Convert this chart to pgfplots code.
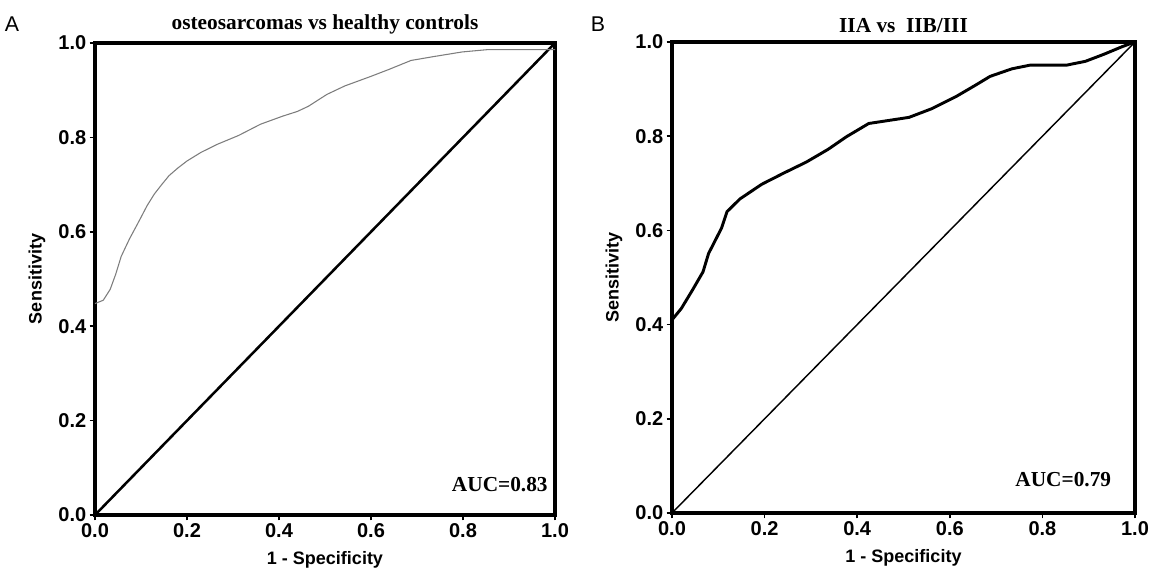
\documentclass[border=0pt]{standalone}
\usepackage{pgfplots}
\pgfplotsset{compat=1.18}
\usepackage{fontspec}
\setmainfont{Liberation Sans}
\newfontfamily\titlefont{Liberation Serif}

\definecolor{curvegray}{RGB}{125,125,125}

\pgfplotsset{
  rocaxis/.style={
    scale only axis,
    xmin=0, xmax=1, ymin=0, ymax=1,
    xtick={0,0.2,...,1.0}, ytick={0,0.2,...,1.0},
    /pgf/number format/assume math mode=true,
    /pgf/number format/.cd, fixed, fixed zerofill, precision=1, /pgfplots/.cd,
    tick label style={font=\fontsize{15}{16}\selectfont\bfseries},
    yticklabel style={xshift=1pt},
    xticklabel style={yshift=1pt},
    label style={font=\fontsize{13.5}{14}\selectfont\bfseries},
    xlabel={1 - Specificity}, ylabel={Sensitivity},
    xlabel style={yshift=-3pt},
    ylabel style={yshift=3pt},
    axis line style={line width=3pt},
    tick style={black, line width=1.2pt},
    tick align=outside, major tick length=4pt,
    xtick pos=bottom, ytick pos=left,
    clip=false,
    title style={font=\titlefont\fontsize{16}{17}\selectfont\bfseries, yshift=-2.5pt},
  }
}

\begin{document}
\begin{tikzpicture}
\path (0,0) rectangle (868.5pt,426.75pt);
\node[font=\fontsize{16}{17}\selectfont, anchor=center] at (9pt,408.75pt) {A};
\node[font=\fontsize{16}{17}\selectfont, anchor=center] at (448.5pt,408.75pt) {B};

\begin{axis}[rocaxis, at={(71.25pt,40.5pt)}, anchor=south west,
  width=345pt, height=354pt,
  title={osteosarcomas vs healthy controls}]
\addplot[black, line width=1.9pt] coordinates {(0,0) (1,1)};
\addplot[curvegray, line width=0.8pt] coordinates {
(0,0.448) (0.018,0.455) (0.033,0.478) (0.045,0.51) (0.057,0.548) (0.075,0.585)
(0.097,0.625) (0.113,0.655) (0.129,0.68) (0.145,0.70) (0.161,0.719) (0.18,0.735)
(0.2,0.75) (0.23,0.768) (0.265,0.785) (0.312,0.804) (0.36,0.828) (0.408,0.845)
(0.44,0.855) (0.464,0.866) (0.504,0.891) (0.543,0.909) (0.599,0.929)
(0.639,0.944) (0.687,0.963) (0.735,0.971) (0.798,0.981) (0.854,0.986) (1.0,0.986)};
\node[font=\titlefont\fontsize{16}{17}\selectfont\bfseries] at (axis cs:0.88,0.064) {AUC=0.83};
\end{axis}

\begin{axis}[rocaxis, at={(504pt,42pt)}, anchor=south west,
  width=347.25pt, height=353.25pt,
  title={IIA vs\ \ IIB/III}]
\addplot[black, line width=1.1pt] coordinates {(0,0) (1,1)};
\addplot[black, line width=2.2pt] coordinates {
(0,0.41) (0.02,0.434) (0.044,0.473) (0.067,0.512) (0.079,0.551) (0.091,0.574)
(0.107,0.605) (0.119,0.64) (0.147,0.667) (0.194,0.698) (0.242,0.722)
(0.29,0.745) (0.337,0.772) (0.377,0.799) (0.425,0.827) (0.472,0.834)
(0.512,0.84) (0.56,0.858) (0.615,0.885) (0.655,0.908) (0.687,0.927)
(0.734,0.943) (0.774,0.951) (0.853,0.951) (0.893,0.959) (0.933,0.974)
(0.972,0.99) (1,1)};
\node[font=\titlefont\fontsize{16}{17}\selectfont\bfseries] at (axis cs:0.845,0.07) {AUC=0.79};
\end{axis}
\end{tikzpicture}
\end{document}
